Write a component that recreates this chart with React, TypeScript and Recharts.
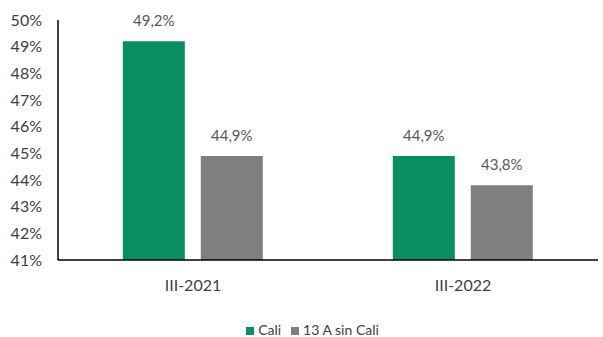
import { BarChart, Bar, XAxis, YAxis, Legend, LabelList } from 'recharts';

const periods = ['III-2021', 'III-2022'];
const cali = [49.2, 44.9];
const resto = [44.9, 43.8];
const yTicks = [41, 42, 43, 44, 45, 46, 47, 48, 49, 50];

const data = periods.map((p, i) => ({ period: p, cali: cali[i], resto: resto[i] }));

const fmtPct = (v: number) => `${v.toFixed(1).replace('.', ',')}%`;
const font = 'Lato, "Open Sans", sans-serif';

export default function App() {
  return (
    <div style={{ position: 'absolute', left: 0, top: 0, background: '#fff' }}>
      <style>{`body{margin:0}`}</style>
      <BarChart
        width={603}
        height={337}
        data={data}
        margin={{ top: 20, right: 5, left: 0, bottom: 47 }}
        barGap={16}
        barCategoryGap="24%"
      >
        <XAxis
          dataKey="period"
          height={30}
          axisLine={{ stroke: '#000', strokeWidth: 1.5 }}
          tickLine={false}
          tickMargin={14}
          tick={{ fill: '#404040', fontSize: 16, fontFamily: font }}
        />
        <YAxis
          domain={[41, 50]}
          ticks={yTicks}
          width={58}
          interval={0}
          allowDataOverflow
          tickFormatter={(v: number) => `${v}%`}
          axisLine={{ stroke: '#000', strokeWidth: 1.5 }}
          tickLine={false}
          tickMargin={10}
          tick={{ fill: '#404040', fontSize: 16, fontFamily: font }}
        />
        <Legend
          verticalAlign="middle"
          align="center"
          iconType="square"
          iconSize={8}
          itemSorter="dataKey"
          wrapperStyle={{ top: 321, left: 16, width: 603, fontFamily: font, fontSize: 14 }}
          formatter={(value: string) => <span style={{ color: '#404040' }}>{value}</span>}
        />
        <Bar dataKey="cali" name="Cali" fill="#078f63" isAnimationActive={false}>
          <LabelList
            dataKey="cali"
            position="top"
            offset={15}
            formatter={(v: number) => fmtPct(v)}
            style={{ fill: '#595959', fontSize: 15, fontFamily: font }}
          />
        </Bar>
        <Bar dataKey="resto" name="13 A sin Cali" fill="#7f7f7f" isAnimationActive={false}>
          <LabelList
            dataKey="resto"
            position="top"
            offset={15}
            formatter={(v: number) => fmtPct(v)}
            style={{ fill: '#595959', fontSize: 15, fontFamily: font }}
          />
        </Bar>
      </BarChart>
    </div>
  );
}
